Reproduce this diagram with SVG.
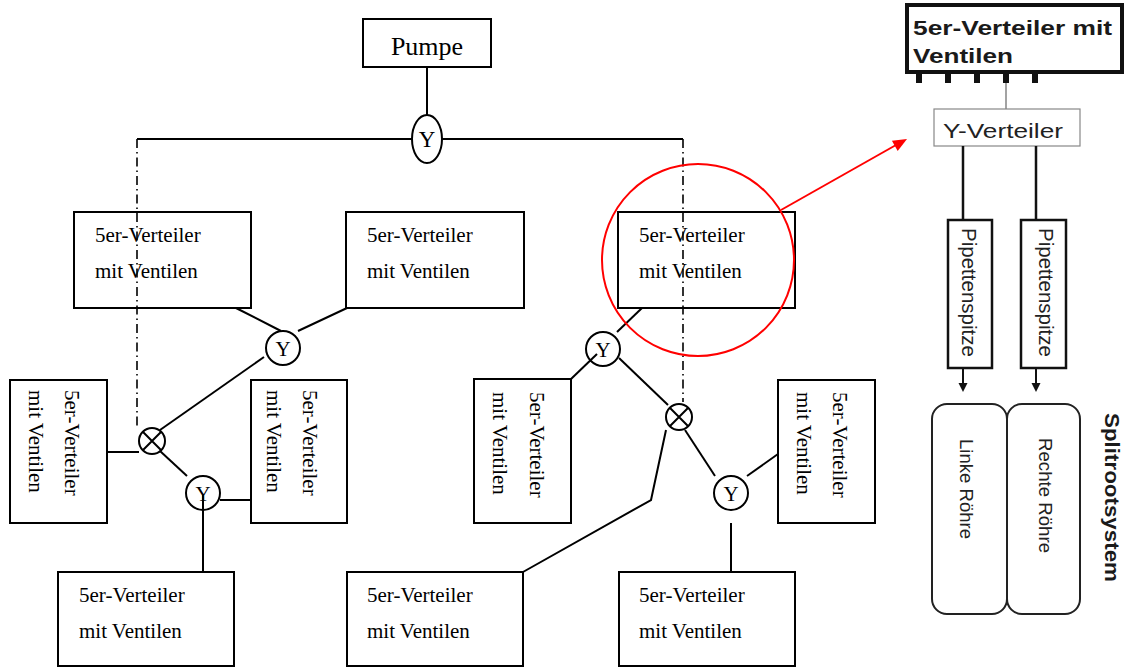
<svg xmlns="http://www.w3.org/2000/svg" width="1125" height="668" viewBox="0 0 1125 668">
<style>
.box{fill:#fff;stroke:#000;stroke-width:2}
.ln{fill:none;stroke:#000;stroke-width:2}
.dd{fill:none;stroke:#000;stroke-width:1.6;stroke-dasharray:9 4 1.5 4}
.nd{fill:#fff;stroke:#000;stroke-width:2}
.t{font-family:"Liberation Serif","Times New Roman",serif;font-size:21px;fill:#000}
.yl{font-family:"Liberation Serif","Times New Roman",serif;font-size:21px;fill:#000;text-anchor:middle}
.s{font-family:"Liberation Sans",Arial,sans-serif;fill:#222}
.sb{font-family:"Liberation Sans",Arial,sans-serif;font-weight:bold;fill:#1a1a1a}
.pb{fill:#fff;stroke:#111;stroke-width:2.5}
</style>
<rect width="1125" height="668" fill="#fff"/>

<g id="pumpe"><rect class="box" x="363" y="19" width="128" height="48"/><text class="yl" x="427" y="55" style="font-size:26px">Pumpe</text></g>
<g id="y-top"><ellipse class="nd" cx="427" cy="139" rx="15" ry="24"/><text class="yl" x="427" y="147" style="font-size:23px">Y</text></g>

<g id="v-top-left"><rect class="box" x="74" y="212" width="177" height="96"/><text class="t" x="95" y="242">5er-Verteiler</text><text class="t" x="95" y="278">mit Ventilen</text></g>
<g id="v-top-mid"><rect class="box" x="346" y="212" width="178" height="96"/><text class="t" x="367" y="242">5er-Verteiler</text><text class="t" x="367" y="278">mit Ventilen</text></g>
<g id="v-top-right"><rect class="box" x="618" y="212" width="177" height="96"/><text class="t" x="639" y="242">5er-Verteiler</text><text class="t" x="639" y="278">mit Ventilen</text></g>

<g id="v-rot-1"><rect class="box" x="10" y="380" width="97" height="143"/><text class="t" transform="translate(65,390) rotate(90)">5er-Verteiler</text><text class="t" transform="translate(29,390) rotate(90)">mit Ventilen</text></g>
<g id="v-rot-2"><rect class="box" x="251" y="380" width="96" height="143"/><text class="t" transform="translate(303,390) rotate(90)">5er-Verteiler</text><text class="t" transform="translate(267,390) rotate(90)">mit Ventilen</text></g>
<g id="v-rot-3"><rect class="box" x="474" y="379" width="97" height="144"/><text class="t" transform="translate(530,392) rotate(90)">5er-Verteiler</text><text class="t" transform="translate(493,392) rotate(90)">mit Ventilen</text></g>
<g id="v-rot-4"><rect class="box" x="778" y="380" width="97" height="143"/><text class="t" transform="translate(833,392) rotate(90)">5er-Verteiler</text><text class="t" transform="translate(797,392) rotate(90)">mit Ventilen</text></g>

<g id="v-bot-left"><rect class="box" x="58" y="572" width="176" height="94"/><text class="t" x="79" y="602">5er-Verteiler</text><text class="t" x="79" y="638">mit Ventilen</text></g>
<g id="v-bot-mid"><rect class="box" x="347" y="572" width="176" height="94"/><text class="t" x="367" y="602">5er-Verteiler</text><text class="t" x="367" y="638">mit Ventilen</text></g>
<g id="v-bot-right"><rect class="box" x="619" y="572" width="176" height="94"/><text class="t" x="639" y="602">5er-Verteiler</text><text class="t" x="639" y="638">mit Ventilen</text></g>

<g id="y-1"><circle class="nd" cx="283" cy="348" r="17"/><text class="yl" x="283" y="356">Y</text></g>
<g id="y-2"><circle class="nd" cx="203" cy="493" r="17"/><text class="yl" x="203" y="501">Y</text></g>
<g id="y-3"><circle class="nd" cx="603" cy="349" r="17"/><text class="yl" x="603" y="357">Y</text></g>
<g id="y-4"><circle class="nd" cx="731" cy="493" r="17"/><text class="yl" x="731" y="501">Y</text></g>

<g id="x-1"><circle class="nd" cx="152" cy="441" r="13"/><path class="ln" d="M142.8 431.8L161.2 450.2M161.2 431.8L142.8 450.2"/></g>
<g id="x-2"><circle class="nd" cx="679" cy="417" r="13"/><path class="ln" d="M669.8 407.8L688.2 426.2M688.2 407.8L669.8 426.2"/></g>

<g id="connectors">
<path class="ln" d="M427 67V115"/>
<path class="ln" d="M137 139H412M442 139H683"/>
<path class="dd" d="M137 139V428"/>
<path class="dd" d="M683 139V402"/>
<path class="ln" d="M236 308L281 331M298 331L347 308"/>
<path class="ln" d="M264 357L160 430"/>
<path class="ln" d="M108 452H139"/>
<path class="ln" d="M160 451L187 476"/>
<path class="ln" d="M220 500H251"/>
<path class="ln" d="M203 495V572"/>
<path class="ln" d="M642 308L617 332"/>
<path class="ln" d="M597 354L571 379"/>
<path class="ln" d="M619 358L668 405"/>
<path class="ln" d="M666 430L651 500L523 572"/>
<path class="ln" d="M685 430L715 476"/>
<path class="ln" d="M747 476L778 454"/>
<path class="ln" d="M731 523V572"/>
</g>

<g id="highlight">
<circle cx="698" cy="260" r="96" fill="none" stroke="#f00" stroke-width="2"/>
<path d="M781 210L896 145" stroke="#f00" stroke-width="2" fill="none"/>
<polygon points="907,139 891.9,140.7 897.7,151.1" fill="#f00"/>
</g>

<g id="panel">
<g id="p-verteiler"><rect x="907" y="5" width="215" height="67" fill="#fff" stroke="#111" stroke-width="4"/>
<text class="sb" x="913" y="35" font-size="21" textLength="199" lengthAdjust="spacingAndGlyphs">5er-Verteiler mit</text>
<text class="sb" x="913" y="63" font-size="21" textLength="100" lengthAdjust="spacingAndGlyphs">Ventilen</text>
<g fill="#111"><rect x="916" y="72" width="6" height="11"/><rect x="945" y="72" width="6" height="11"/><rect x="974" y="72" width="6" height="11"/><rect x="1003" y="72" width="6" height="11"/><rect x="1032" y="72" width="6" height="11"/></g></g>
<path d="M1006 83V109" stroke="#666" stroke-width="1.2"/>
<g id="p-y"><rect x="934" y="109" width="146" height="37" fill="#fff" stroke="#888" stroke-width="1.2"/>
<text class="s" x="943" y="138" font-size="21" textLength="120" lengthAdjust="spacingAndGlyphs">Y-Verteiler</text></g>
<path d="M963 146V220M1036 146V220" stroke="#111" stroke-width="2.5"/>
<g id="p-pip1"><rect class="pb" x="948" y="220" width="44" height="148"/><text class="s" font-size="20" textLength="129" lengthAdjust="spacingAndGlyphs" transform="translate(962,228) rotate(90)">Pipettenspitze</text></g>
<g id="p-pip2"><rect class="pb" x="1021" y="220" width="45" height="148"/><text class="s" font-size="20" textLength="129" lengthAdjust="spacingAndGlyphs" transform="translate(1039,228) rotate(90)">Pipettenspitze</text></g>
<path d="M963 368V384M1036 368V384" stroke="#111" stroke-width="2"/>
<polygon points="958.5,383 967.5,383 963,392" fill="#111"/>
<polygon points="1031.5,383 1040.5,383 1036,392" fill="#111"/>
<g id="p-links"><rect x="932" y="404" width="75" height="210" rx="15" fill="#fff" stroke="#222" stroke-width="2"/><text class="s" font-size="19" textLength="100" lengthAdjust="spacingAndGlyphs" transform="translate(960,439) rotate(90)">Linke Röhre</text></g>
<g id="p-rechts"><rect x="1007" y="404" width="73" height="210" rx="15" fill="#fff" stroke="#222" stroke-width="2"/><text class="s" font-size="19" textLength="115" lengthAdjust="spacingAndGlyphs" transform="translate(1039,438) rotate(90)">Rechte Röhre</text></g>
<text class="sb" font-size="21" textLength="169" lengthAdjust="spacingAndGlyphs" transform="translate(1105,413) rotate(90)">Splitrootsystem</text>
</g>
</svg>
